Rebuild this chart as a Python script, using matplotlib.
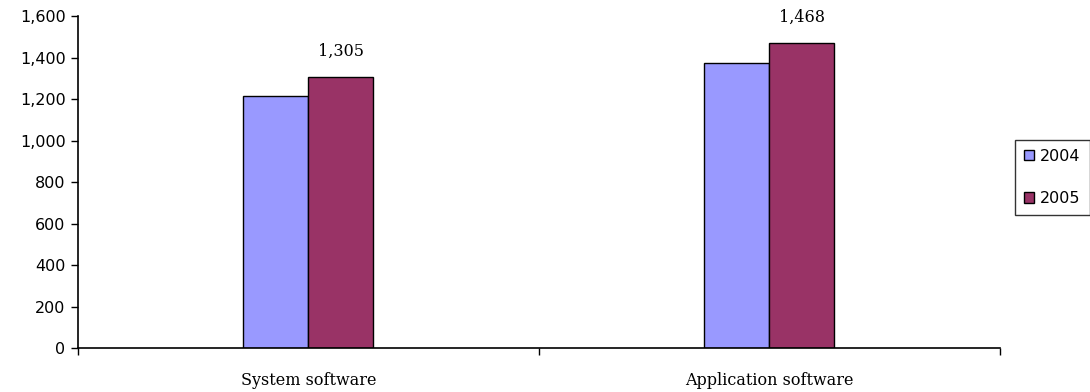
import matplotlib.pyplot as plt
import numpy as np
from matplotlib.ticker import FuncFormatter, FixedLocator

categories = ["System software", "Application software"]
years = ["2004", "2005"]
values_2004 = [1217, 1373]
values_2005 = [1305, 1468]
colors = ["#9999FF", "#993366"]

fig = plt.figure(figsize=(10.9, 3.92), dpi=100)
ax = fig.add_axes([0.0716, 0.112, 0.8454, 0.847])

x = np.arange(len(categories))
w = 0.141
ax.bar(x - w / 2, values_2004, w, color=colors[0], edgecolor="black", linewidth=1, label=years[0])
bars = ax.bar(x + w / 2, values_2005, w, color=colors[1], edgecolor="black", linewidth=1, label=years[1])

# only the 2005 bars carry their value
for b, v in zip(bars, values_2005):
    ax.text(b.get_x() + b.get_width() / 2, v + 85, f"{v:,}", ha="center", va="bottom",
            fontsize=11.5, family="DejaVu Serif")

ax.set_xlim(-0.5, len(categories) - 0.5)
ax.set_ylim(0, 1600)
ax.set_yticks(np.arange(0, 1601, 200))
ax.yaxis.set_major_formatter(FuncFormatter(lambda v, p: f"{int(v):,}"))
ax.tick_params(axis="y", labelsize=11.5, length=5, width=1, direction="out", pad=4)

ax.xaxis.set_major_locator(FixedLocator([-0.5, 0.5, 1.5]))
ax.xaxis.set_minor_locator(FixedLocator(x))
ax.xaxis.set_major_formatter(FuncFormatter(lambda v, p: ""))
ax.set_xticks(x, categories, minor=True)
ax.tick_params(axis="x", which="major", length=5, width=1, direction="out")
ax.tick_params(axis="x", which="minor", length=0, pad=17, labelsize=11.5)
for lbl in ax.get_xticklabels(minor=True):
    lbl.set_family("DejaVu Serif")

for s in ["top", "right"]:
    ax.spines[s].set_visible(False)
for s in ["left", "bottom"]:
    ax.spines[s].set_linewidth(1.2)

fig.legend(loc="upper left", bbox_to_anchor=(0.931, 0.643), frameon=True, fancybox=False,
           edgecolor="black", fontsize=11.5, handlelength=0.65, handleheight=0.65,
           handletextpad=0.4, labelspacing=1.7, borderpad=0.55, borderaxespad=0)

fig.savefig("out.png", dpi=100)
